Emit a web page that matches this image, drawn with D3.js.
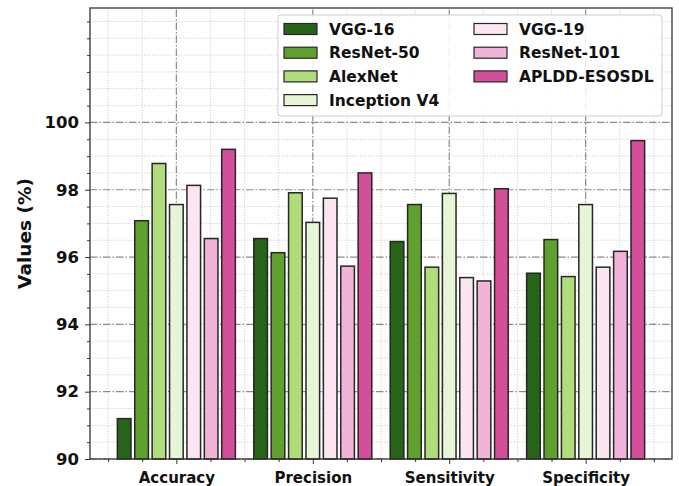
<!DOCTYPE html>
<html>
<head>
<meta charset="utf-8">
<script src="https://cdn.jsdelivr.net/npm/d3@7"></script>
<style>
  body { margin: 0; background: #fff; }
  svg { font-family: "DejaVu Sans", sans-serif; font-weight: bold; }
</style>
</head>
<body>
<div id="chart"></div>
<script>
// metric groups on the x axis
var categories = ["Accuracy", "Precision", "Sensitivity", "Specificity"];

// models, in legend order
var models = ["VGG-16", "ResNet-50", "AlexNet", "Inception V4", "VGG-19", "ResNet-101", "APLDD-ESOSDL"];

// values per model, one per category
var vgg16 = [91.2, 96.55, 96.46, 95.52];
var resnet50 = [97.08, 96.13, 97.56, 96.52];
var alexnet = [98.78, 97.91, 95.70, 95.42];
var inceptionV4 = [97.56, 97.03, 97.89, 97.56];
var vgg19 = [98.13, 97.75, 95.39, 95.70];
var resnet101 = [96.55, 95.73, 95.29, 96.17];
var apldd = [99.2, 98.5, 98.03, 99.46];

var yTicks = [90, 92, 94, 96, 98, 100];

var seriesValues = [vgg16, resnet50, alexnet, inceptionV4, vgg19, resnet101, apldd];
var colors = ["#276419", "#5fa02e", "#b1dc7c", "#e6f5d5", "#fbe5f0", "#f2b3d8", "#d44f9a"];

var width = 679, height = 486;
var margin = {top: 8, right: 7, bottom: 27, left: 90};

var svg = d3.select("#chart").append("svg")
    .attr("width", width)
    .attr("height", height);

//scales
var x = d3.scaleLinear()
    .domain([-0.633, 3.633])
    .range([margin.left, width - margin.right]);

var y = d3.scaleLinear()
    .domain([90, 103.4])
    .range([height - margin.bottom, margin.top]);

var step = 0.1275, barWidth = 0.1;

var xMinor = d3.range(-0.5, 3.51, 0.25).filter(function (d) { return Math.abs(d - Math.round(d)) > 0.01; });
var yMinor = d3.range(90.5, 103.01, 0.5).filter(function (d) { return yTicks.indexOf(d) < 0; });

var grid = svg.append("g");

//minor grid (dotted)
grid.selectAll(".vminor").data(xMinor).enter().append("line")
    .attr("x1", function (d) { return x(d); })
    .attr("x2", function (d) { return x(d); })
    .attr("y1", y.range()[0]).attr("y2", y.range()[1])
    .attr("stroke", "#c8c8c8").attr("stroke-width", 1)
    .attr("stroke-dasharray", "1,1.7");

grid.selectAll(".hminor").data(yMinor).enter().append("line")
    .attr("x1", x.range()[0]).attr("x2", x.range()[1])
    .attr("y1", function (d) { return y(d); })
    .attr("y2", function (d) { return y(d); })
    .attr("stroke", "#c8c8c8").attr("stroke-width", 1)
    .attr("stroke-dasharray", "1,1.7");

//major grid (dash-dot)
grid.selectAll(".vmajor").data(d3.range(categories.length)).enter().append("line")
    .attr("x1", function (d) { return x(d); })
    .attr("x2", function (d) { return x(d); })
    .attr("y1", y.range()[0]).attr("y2", y.range()[1])
    .attr("stroke", "#8a8a8a").attr("stroke-width", 1.2)
    .attr("stroke-dasharray", "7.5,2,1.5,2");

grid.selectAll(".hmajor").data(yTicks).enter().append("line")
    .attr("x1", x.range()[0]).attr("x2", x.range()[1])
    .attr("y1", function (d) { return y(d); })
    .attr("y2", function (d) { return y(d); })
    .attr("stroke", "#8a8a8a").attr("stroke-width", 1.2)
    .attr("stroke-dasharray", "7.5,2,1.5,2");

//bars
models.forEach(function (m, i) {
    svg.append("g").selectAll("rect").data(seriesValues[i]).enter().append("rect")
        .attr("x", function (d, j) { return x(j + (i - 3) * step - barWidth / 2); })
        .attr("width", x(barWidth) - x(0))
        .attr("y", function (d) { return y(d); })
        .attr("height", function (d) { return y(90) - y(d); })
        .attr("fill", colors[i])
        .attr("stroke", "#262626")
        .attr("stroke-width", 1.5);
});

//axes
var xAxis = d3.axisBottom(x)
    .tickValues(d3.range(categories.length))
    .tickFormat(function (d) { return categories[d]; })
    .tickSize(5).tickPadding(8);
var xAxisMinor = d3.axisBottom(x).tickValues(xMinor).tickFormat("").tickSize(3);

var yAxis = d3.axisLeft(y).tickValues(yTicks).tickSize(5).tickPadding(6);
var yAxisMinor = d3.axisLeft(y).tickValues(yMinor).tickFormat("").tickSize(3);

var gx = svg.append("g").attr("transform", "translate(0," + y(90) + ")").call(xAxis);
svg.append("g").attr("transform", "translate(0," + y(90) + ")").call(xAxisMinor);
var gy = svg.append("g").attr("transform", "translate(" + x.range()[0] + ",0)").call(yAxis);
svg.append("g").attr("transform", "translate(" + x.range()[0] + ",0)").call(yAxisMinor);

svg.selectAll(".domain").remove();
svg.selectAll(".tick line").attr("stroke", "#333").attr("stroke-width", 1);
gx.selectAll("text").attr("font-family", "DejaVu Sans").attr("font-size", 15)
    .attr("fill", "#111").attr("font-weight", "bold");
gy.selectAll("text").attr("font-family", "DejaVu Sans").attr("font-size", 16.5)
    .attr("fill", "#111").attr("font-weight", "bold");

//frame
svg.append("rect")
    .attr("x", x.range()[0]).attr("y", y.range()[1])
    .attr("width", x.range()[1] - x.range()[0])
    .attr("height", y.range()[0] - y.range()[1])
    .attr("fill", "none").attr("stroke", "#333").attr("stroke-width", 1.3);

svg.append("text")
    .attr("transform", "translate(31," + (y.range()[0] + y.range()[1]) / 2 + ") rotate(-90)")
    .attr("text-anchor", "middle")
    .attr("font-size", 18.5)
    .attr("fill", "#111")
    .text("Values (%)");

//legend
var legend = svg.append("g");
legend.append("rect")
    .attr("x", 278).attr("y", 15)
    .attr("width", 384).attr("height", 101)
    .attr("rx", 3)
    .attr("fill", "#fff").attr("fill-opacity", 0.85)
    .attr("stroke", "#cfcfcf").attr("stroke-width", 1);

var items = legend.selectAll(".item").data(models).enter().append("g")
    .attr("transform", function (d, i) {
        var col = i < 4 ? 0 : 1, row = i < 4 ? i : i - 4;
        return "translate(" + (284 + col * 190) + "," + (29 + row * 23.7) + ")";
    });

items.append("rect")
    .attr("x", 0).attr("y", -5.5)
    .attr("width", 33).attr("height", 11)
    .attr("fill", function (d, i) { return colors[i]; })
    .attr("stroke", "#262626").attr("stroke-width", 1.2);

items.append("text")
    .attr("x", 45).attr("y", 5.5)
    .attr("font-size", 15.5)
    .attr("fill", "#111")
    .text(function (d) { return d; });
</script>
</body>
</html>
